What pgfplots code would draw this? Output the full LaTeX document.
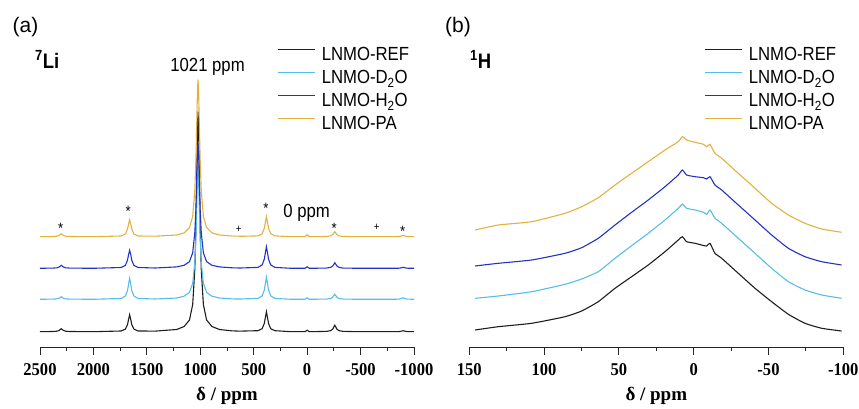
\documentclass[border=0pt]{standalone}
\usepackage{fontspec}
\setmainfont{Liberation Sans}
\newfontfamily\lgf{Liberation Sans}[FakeStretch=0.88]
\newfontfamily\tkf{Liberation Serif}[FakeStretch=0.92]
\newfontfamily\tms{Liberation Serif}
\usepackage{pgfplots}
\pgfplotsset{compat=1.18}
\usepackage{pgfplotstable}

\definecolor{cref}{HTML}{1E1E1E}
\definecolor{cdto}{HTML}{56BDE8}
\definecolor{chto}{HTML}{2233C4}
\definecolor{cpa}{HTML}{E2B23F}

% 7Li MAS spectra (stacked, heights in arbitrary units)
\pgfplotstableread{
x ref d2o h2o pa
2500 15.3 47.7 78.7 110.3
2381 15.5 47.9 78.9 110.5
2341 15.8 48.1 79.2 110.8
2321 16.6 48.7 80.0 111.6
2311 17.4 49.5 80.8 112.4
2301 18.3 50.2 81.7 113.3
2291 17.4 49.5 80.8 112.4
2281 16.6 48.7 80.0 111.6
2261 15.8 48.1 79.2 110.8
2221 15.5 47.9 78.9 110.5
2000 15.3 47.7 78.7 110.3
1741 16.0 48.5 79.5 111.0
1701 17.9 51.0 81.6 113.0
1681 22.4 56.4 86.8 117.9
1671 27.6 62.9 92.5 123.0
1661 32.3 68.7 96.7 127.3
1651 27.6 62.9 92.5 123.0
1641 22.4 56.4 86.8 117.9
1621 17.9 51.0 81.6 113.0
1581 16.0 48.5 79.5 111.0
1421 15.9 48.0 79.0 110.8
1221 17.5 49.0 80.1 112.0
1151 20.5 50.8 81.7 114.1
1101 27.0 54.6 85.4 119.5
1071 42.5 63.7 94.2 130.6
1051 78.0 84.7 114.6 157.1
1041 118.6 108.8 137.5 187.1
1031 186.0 149.3 176.7 232.5
1026 220.8 168.6 195.1 257.4
1021 235.3 177.7 203.7 267.3
1016 220.8 168.6 195.1 257.4
1011 186.0 149.3 176.7 232.5
1001 118.6 108.8 137.5 187.1
991 78.0 84.7 114.6 157.1
971 42.5 63.7 94.2 130.6
941 27.0 54.6 85.4 119.5
891 20.5 50.8 81.7 114.1
821 17.5 49.0 80.1 112.0
700 16.1 48.1 79.2 110.9
660 16.0 48.0 79.1 110.8
640 15.9 48.0 79.0 110.8
620 15.9 48.0 79.0 110.7
461 16.3 48.6 79.6 111.1
421 18.3 51.1 82.1 113.3
401 23.5 56.9 87.8 118.7
391 29.5 63.5 94.2 124.6
381 35.3 69.7 100.3 130.3
371 29.5 63.5 94.2 124.6
361 23.5 56.9 87.8 118.7
341 18.3 51.1 82.1 113.3
301 16.3 48.6 79.6 111.1
150 15.3 47.7 78.7 110.3
20 15.3 47.7 78.7 110.3
0 16.8 49.2 80.2 112.3
-20 15.3 47.7 78.7 110.3
-179 15.6 47.9 78.9 110.5
-219 16.3 48.5 79.6 111.1
-239 17.8 49.7 81.0 112.4
-249 19.8 51.2 82.6 113.8
-259 21.8 52.7 84.3 115.3
-269 19.8 51.2 82.6 113.8
-279 17.8 49.7 81.0 112.4
-299 16.3 48.5 79.6 111.1
-339 15.6 47.9 78.9 110.5
-500 15.3 47.7 78.7 110.3
-820 15.3 47.7 78.7 110.3
-859 15.4 47.9 78.8 110.5
-879 15.7 48.3 79.1 110.9
-899 16.3 49.2 79.7 111.8
-919 15.7 48.3 79.1 110.9
-939 15.4 47.9 78.8 110.5
-1000 15.3 47.7 78.7 110.3
}\litab

% 1H MAS spectra (stacked)
\pgfplotstableread{
x ref d2o h2o pa
146.2 17.0 48.7 81.0 117.0
130.6 20.3 51.0 83.7 122.0
108.3 23.7 55.3 87.0 125.3
86.0 30.3 62.7 93.7 133.7
74.9 36.0 68.0 99.3 140.3
63.8 45.3 75.3 108.7 149.3
52.6 58.7 88.7 122.0 162.0
41.5 70.3 101.3 134.7 173.7
30.4 82.0 113.7 147.0 185.3
19.2 95.3 127.0 160.3 197.0
10.3 107.0 138.7 172.0 205.3
7.6 110.3 143.0 177.0 210.3
4.7 105.3 138.7 172.0 207.0
-0.9 103.7 137.0 170.3 204.7
-6.5 101.5 134.7 169.3 202.7
-8.7 101.0 132.7 168.0 200.3
-10.9 103.7 137.0 170.3 202.7
-14.2 93.7 128.7 162.0 193.7
-18.7 88.7 123.7 157.0 188.7
-29.8 73.7 108.7 142.0 173.7
-41.0 58.7 93.7 127.0 158.7
-52.1 45.3 78.7 112.0 143.7
-63.3 32.7 65.3 98.7 132.0
-74.4 23.7 57.0 90.3 123.7
-85.6 18.7 52.0 85.3 118.0
-98.9 16.0 48.7 82.0 114.7
}\htab

\pgfplotsset{
  nmr/.style={
    scale only axis, width=374pt, height=310pt,
    ymin=0, ymax=310, x dir=reverse, clip=false,
    axis x line=bottom, axis y line=none,
    axis line style={-, line width=0.9pt, black!85},
    tick align=outside, major tick length=7.7pt, minor tick length=3.7pt,
    tick style={line width=0.9pt, black!85},
    minor x tick num=1,
    scaled x ticks=false,
    /pgf/number format/assume math mode=true,
    /pgf/number format/1000 sep={},
    xticklabel style={font=\tkf\bfseries\fontsize{18}{18}\selectfont, inner sep=0pt, text height=12.5pt, text depth=0pt, yshift=-8pt},
    xlabel={$\vphantom{p}$\tms\bfseries\fontsize{19}{19}\selectfont δ / ppm},
    xlabel style={at={(axis description cs:0.5,0)}, anchor=center, yshift=-49pt, inner sep=0pt},
    legend cell align=left,
    legend image code/.code={\draw[##1, line width=0.9pt] (0pt,6.5pt) -- (37pt,6.5pt);},
    legend style={draw=none, fill=none, inner sep=0pt, outer sep=0pt,
      row sep=5pt, column sep=6pt,
      nodes={inner sep=0pt, text height=14pt, text depth=4pt, font=\lgf\fontsize{19}{19}\selectfont}},
    every axis plot/.append style={line width=1.1pt},
  }
}

\begin{document}
\begin{tikzpicture}
\useasboundingbox (0pt,0pt) rectangle (859pt,409pt);

% (a) 7Li
\begin{axis}[nmr, at={(40pt,62pt)}, anchor=south west,
  xmin=-1000, xmax=2500, xtick={2500,2000,...,-1000},
  legend style={at={(0.636,0.968)}, anchor=north west}]
\addplot[cref] table[x=x, y=ref] {\litab};
\addplot[cdto] table[x=x, y=d2o] {\litab};
\addplot[chto] table[x=x, y=h2o] {\litab};
\addplot[cpa] table[x=x, y=pa] {\litab};
\legend{LNMO-REF, LNMO-D\textsubscript{2}O, LNMO-H\textsubscript{2}O, LNMO-PA}
\node[font=\lgf\fontsize{19}{19}\selectfont] at (axis cs:932,280) {1021 ppm};
\node[font=\lgf\fontsize{19}{19}\selectfont] at (axis cs:4,134.3) {0 ppm};
\begin{scope}[every node/.style={font=\lgf\fontsize{15}{15}\selectfont, anchor=base, inner sep=0pt}]
\node at (axis cs:2306,113.3) {*};
\node at (axis cs:1674,130) {*};
\node at (axis cs:385,133.3) {*};
\node at (axis cs:-254,113.3) {*};
\node at (axis cs:-894,110.6) {*};
\end{scope}
\begin{scope}[every node/.style={font=\lgf\fontsize{11}{11}\selectfont, anchor=base, inner sep=0pt}]
\node at (axis cs:640,114.8) {+};
\node at (axis cs:-651,116.4) {+};
\end{scope}
\end{axis}

% (b) 1H
\begin{axis}[nmr, at={(469.3pt,62pt)}, anchor=south west,
  xmin=-100, xmax=150, xtick={150,100,...,-100},
  legend style={at={(0.630,0.968)}, anchor=north west}]
\addplot[cref, smooth, tension=0.3] table[x=x, y=ref] {\htab};
\addplot[cdto, smooth, tension=0.3] table[x=x, y=d2o] {\htab};
\addplot[chto, smooth, tension=0.3] table[x=x, y=h2o] {\htab};
\addplot[cpa, smooth, tension=0.3] table[x=x, y=pa] {\htab};
\legend{LNMO-REF, LNMO-D\textsubscript{2}O, LNMO-H\textsubscript{2}O, LNMO-PA}
\end{axis}

\node[font=\fontsize{21}{21}\selectfont, inner sep=0pt] at (25.5pt,381.5pt) {(a)};
\node[font=\fontsize{21}{21}\selectfont, inner sep=0pt] at (458pt,381.5pt) {(b)};
\node[font=\lgf\bfseries\fontsize{21}{21}\selectfont, anchor=base west, inner sep=0pt] at (35pt,340.7pt) {\textsuperscript{7}Li};
\node[font=\lgf\bfseries\fontsize{21}{21}\selectfont, anchor=base west, inner sep=0pt] at (470pt,340.7pt) {\textsuperscript{1}H};
\end{tikzpicture}
\end{document}
